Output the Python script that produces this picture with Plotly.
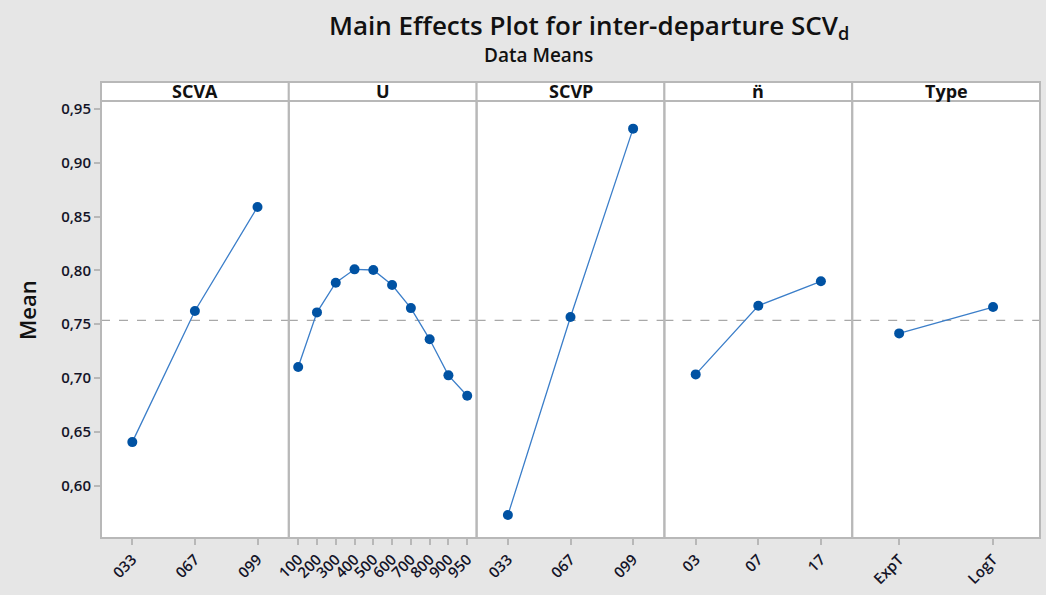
import plotly.graph_objects as go
from plotly.subplots import make_subplots

# factor names and levels
factors = ['SCVA', 'U', 'SCVP', 'n\u0308', 'Type']

scva_levels = ['033', '067', '099']
scva_means = [0.6405, 0.7623, 0.8589]

u_levels = ['100', '200', '300', '400', '500', '600', '700', '800', '900', '950']
u_means = [0.7102, 0.7610, 0.7886, 0.8010, 0.8004, 0.7864, 0.7650, 0.7360, 0.7025, 0.6836]

scvp_levels = ['033', '067', '099']
scvp_means = [0.5727, 0.7567, 0.9317]

n_levels = ['03', '07', '17']
n_means = [0.7034, 0.7672, 0.7899]

type_levels = ['ExpT', 'LogT']
type_means = [0.7415, 0.7660]

grand_mean = 0.7535

y_ticks = [0.60, 0.65, 0.70, 0.75, 0.80, 0.85, 0.90, 0.95]

panels = [
    (scva_levels, scva_means),
    (u_levels, u_means),
    (scvp_levels, scvp_means),
    (n_levels, n_means),
    (type_levels, type_means),
]

W, H = 1046, 595
left, right, top, bottom = 101, 6, 101, 57
ph = H - top - bottom
pw_px = W - left - right
grey = '#b8b8b8'
txt = '#141428'
font_main = 'Open Sans'

fig = make_subplots(rows=1, cols=5, shared_yaxes=True, horizontal_spacing=0)

pw = 1.0 / 5
strip_h = 19 / ph

for i, (levels, means) in enumerate(panels):
    fig.add_trace(go.Scatter(
        x=levels, y=means, mode='lines+markers',
        line=dict(color='#3b7ec9', width=1.3),
        marker=dict(color='#0052a3', size=10),
        showlegend=False,
        hoverinfo='x+y'
    ), row=1, col=i + 1)

    fig.update_xaxes(
        type='category', range=[-0.5, len(levels) - 0.5],
        domain=[i * pw, (i + 1) * pw],
        tickangle=-45, ticks='outside', ticklen=6, tickcolor=grey, tickwidth=1.5,
        tickfont=dict(family=font_main, size=15, color=txt, weight=600),
        showline=False, showgrid=False, zeroline=False, fixedrange=True,
        automargin=False,
        row=1, col=i + 1
    )

    ax = '' if i == 0 else str(i + 1)
    # dashed line at the grand mean
    fig.add_shape(type='line', xref='x%s domain' % ax, yref='y',
                  x0=0, x1=1, y0=grand_mean, y1=grand_mean,
                  line=dict(color='#a8a8a8', width=1.3, dash='dash'), layer='below')
    # panel frame
    fig.add_shape(type='rect', xref='x%s domain' % ax, yref='paper',
                  x0=0, x1=1, y0=0, y1=1,
                  line=dict(color=grey, width=2), layer='above')
    # header strip
    fig.add_shape(type='rect', xref='x%s domain' % ax, yref='paper',
                  x0=0, x1=1, y0=1, y1=1 + strip_h,
                  fillcolor='white', line=dict(color=grey, width=2))
    fig.add_annotation(text='<b>%s</b>' % factors[i], xref='x%s domain' % ax, yref='paper',
                       x=0.5, y=1 + strip_h / 2, showarrow=False,
                       yanchor='middle',
                       font=dict(family=font_main, size=18, color='#111111'))

fig.update_yaxes(
    range=[0.5514, 0.9574], tickvals=y_ticks, tickformat='.2f',
    ticks='', showline=False, showgrid=False, zeroline=False, fixedrange=True,
    automargin=False,
    tickfont=dict(family=font_main, size=15, color=txt, weight=600)
)
# only the first panel carries ticks
fig.update_yaxes(ticks='outside', ticklen=6, tickcolor=grey, tickwidth=1.5, row=1, col=1)

fig.add_annotation(text='Mean', xref='paper', yref='paper',
                   x=-(left - 27) / pw_px, y=(H - bottom - 310) / ph,
                   textangle=-90, showarrow=False, xanchor='center', yanchor='middle',
                   font=dict(family=font_main, size=22, color='#111111', weight=600))

fig.add_annotation(text='Main Effects Plot for inter-departure SCV<sub>d</sub>',
                   xref='paper', yref='paper', x=(589 - left) / pw_px,
                   y=1 + (top - 26) / ph, showarrow=False,
                   xanchor='center', yanchor='middle',
                   font=dict(family=font_main, size=26, color='#111111', weight=600))
fig.add_annotation(text='Data Means',
                   xref='paper', yref='paper', x=(538 - left) / pw_px,
                   y=1 + (top - 55) / ph, showarrow=False,
                   xanchor='center', yanchor='middle',
                   font=dict(family=font_main, size=19, color='#111111', weight=600))

fig.update_layout(
    width=W, height=H,
    margin=dict(l=left, r=right, t=top, b=bottom),
    paper_bgcolor='#e6e6e6', plot_bgcolor='white',
    separators=', ',
    hovermode='closest'
)

# no page margin, so the figure sits at the top-left corner of the window
fig.write_html('out.html', config={'displayModeBar': False},
               post_script="document.body.style.margin='0';")
